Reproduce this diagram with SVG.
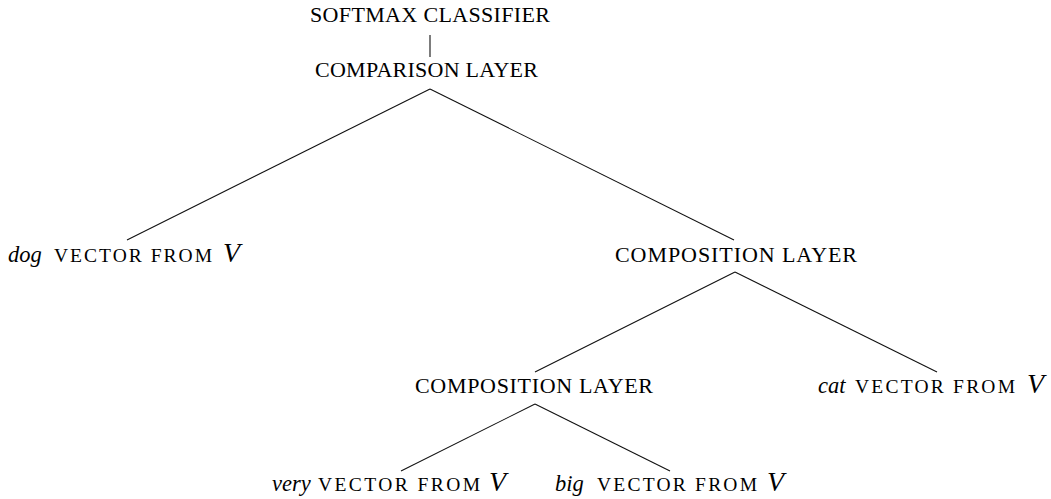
<svg xmlns="http://www.w3.org/2000/svg" width="1051" height="499" viewBox="0 0 1051 499">
<style>
text{font-family:"Liberation Serif","Times New Roman",serif;fill:#000}
.cap{font-size:22px}
.it{font-size:22.5px;font-style:italic}
.sc{font-size:19.5px}
.v{font-size:28px;font-style:italic}
.edge{stroke:#111;stroke-width:1.1;fill:none}
</style>
<rect width="1051" height="499" fill="#fff"/>
<g id="connectors">
<line class="edge" x1="430" y1="35" x2="430" y2="57"/>
<line class="edge" x1="430" y1="89" x2="127" y2="240"/>
<line class="edge" x1="430" y1="89" x2="734" y2="240"/>
<line class="edge" x1="735" y1="272" x2="535" y2="372"/>
<line class="edge" x1="735" y1="272" x2="937" y2="372"/>
<line class="edge" x1="535" y1="404" x2="401" y2="471"/>
<line class="edge" x1="535" y1="404" x2="670" y2="471"/>
</g>
<g id="softmax"><text class="cap" x="310" y="22" textLength="240" lengthAdjust="spacing">SOFTMAX CLASSIFIER</text></g>
<g id="comparison"><text class="cap" x="315" y="77" textLength="223" lengthAdjust="spacing">COMPARISON LAYER</text></g>
<g id="dog">
<text class="it" x="8" y="262">dog</text>
<text class="sc" x="54" y="262" textLength="158" lengthAdjust="spacing">VECTOR FROM</text>
<text class="v" x="223" y="262">V</text>
</g>
<g id="composition1"><text class="cap" x="615" y="262" textLength="242" lengthAdjust="spacing">COMPOSITION LAYER</text></g>
<g id="composition2"><text class="cap" x="415" y="393" textLength="238" lengthAdjust="spacing">COMPOSITION LAYER</text></g>
<g id="cat">
<text class="it" x="818" y="393">cat</text>
<text class="sc" x="855" y="393" textLength="160" lengthAdjust="spacing">VECTOR FROM</text>
<text class="v" x="1027" y="393">V</text>
</g>
<g id="very">
<text class="it" x="272" y="491">very</text>
<text class="sc" x="318" y="491" textLength="162" lengthAdjust="spacing">VECTOR FROM</text>
<text class="v" x="489" y="491">V</text>
</g>
<g id="big">
<text class="it" x="555" y="491">big</text>
<text class="sc" x="597" y="491" textLength="160" lengthAdjust="spacing">VECTOR FROM</text>
<text class="v" x="767" y="491">V</text>
</g>
</svg>
